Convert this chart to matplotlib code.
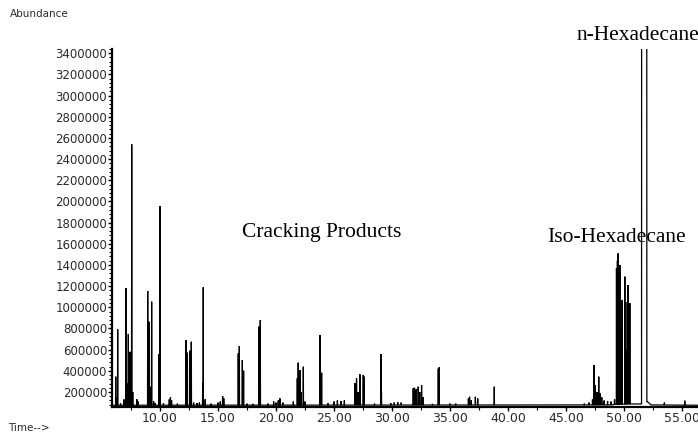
import numpy as np
import matplotlib
matplotlib.use("Agg")
import matplotlib.pyplot as plt
from matplotlib.ticker import MultipleLocator, FuncFormatter

# Retention times (min) and abundances of the resolved peaks
rt_min = [
    6.18, 6.25, 6.35, 6.60, 6.90, 7.07, 7.15, 7.27, 7.41, 7.50, 7.56, 7.65,
    8.00, 8.10, 8.94, 9.00, 9.05, 9.15, 9.28, 9.45, 9.60, 9.90, 10.00, 10.30,
    10.80, 10.90, 11.00, 11.50, 12.24, 12.30, 12.36, 12.59, 12.70, 12.90, 13.20,
    13.40, 13.68, 13.73, 13.90, 14.40, 15.00, 15.20, 15.40, 15.50, 16.75, 16.84,
    17.10, 17.21, 17.50, 18.00, 18.53, 18.65, 19.30, 19.80, 20.00, 20.20, 20.34,
    20.60, 21.50, 21.84, 21.92, 22.00, 22.07, 22.15, 22.36, 22.50, 23.79, 23.94,
    24.50, 25.00, 25.30, 25.60, 25.90, 26.81, 26.95, 27.10, 27.24, 27.53, 27.61,
    28.50, 29.05, 29.10, 29.90, 30.20, 30.50, 30.80, 31.84, 31.95, 32.10, 32.27,
    32.40, 32.56, 32.70, 33.50, 34.00, 34.08, 35.00, 35.50, 36.60, 36.70, 36.85,
    37.20, 37.40, 38.83, 46.60, 47.00, 47.30, 47.44, 47.55, 47.70, 47.84, 47.95,
    48.10, 48.30, 48.60, 48.90, 49.20, 49.37, 49.45, 49.51, 49.58, 49.66, 49.75,
    49.85, 50.09, 50.17, 50.25, 50.37, 50.52, 53.50, 55.26,
]
abundance = [
    345000, 150000, 792000, 93000, 130000, 1180000, 282000, 748000, 580000, 203000, 2540000, 200000,
    131000, 110000, 1154000, 313000, 864000, 250000, 1053000, 110000, 95000, 559000, 1957000, 95000,
    130000, 150000, 120000, 90000, 691000, 200000, 571000, 590000, 675000, 100000, 95000,
    100000, 288000, 1189000, 130000, 90000, 100000, 110000, 162000, 140000, 565000, 634000,
    502000, 401000, 90000, 88000, 817000, 880000, 90000, 110000, 100000, 120000, 140000,
    100000, 110000, 329000, 477000, 250000, 408000, 200000, 439000, 110000, 738000, 382000,
    95000, 110000, 120000, 115000, 120000, 282000, 329000, 200000, 367000, 361000, 345000,
    90000, 559000, 200000, 95000, 100000, 105000, 100000, 235000, 240000, 225000, 250000,
    200000, 263000, 150000, 88000, 420000, 433000, 90000, 90000, 140000, 155000, 120000,
    155000, 140000, 250000, 90000, 100000, 130000, 455000, 266000, 200000, 345000, 188000,
    150000, 120000, 115000, 110000, 130000, 1370000, 1440000, 1510000, 900000, 1400000, 800000,
    1070000, 1290000, 1050000, 600000, 1210000, 1040000, 100000, 118000,
]

# Baseline level of the total ion current (drifts up under the C16 region)
base_t = [5.86, 49.0, 49.3, 50.6, 51.5, 52.05, 52.35, 56.4]
base_a = [75000, 78000, 85000, 87000, 87000, 108000, 78000, 75000]

# n-Hexadecane: saturated peak, apex far off scale
nhex_start, nhex_apex_t, nhex_end = 51.53, 51.76, 51.99
nhex_apex = 1.0e8

# Axis settings
x_range = (5.86, 56.4)
y_range = (58300, 3440000)
y_ticks = list(range(200000, 3400001, 200000))
x_ticks = [10, 15, 20, 25, 30, 35, 40, 45, 50, 55]

# Build the trace polyline
half_w = 0.016
pts = []
for t, a in zip(rt_min, abundance):
    foot = np.interp(t, base_t, base_a)
    pts += [(t - half_w, foot), (t, a), (t + half_w, foot)]
pts += [(nhex_start, np.interp(nhex_start, base_t, base_a)),
        (nhex_apex_t, nhex_apex),
        (nhex_end, np.interp(nhex_end, base_t, base_a))]
peak_edges = [(t - half_w, t + half_w) for t in rt_min] + [(nhex_start, nhex_end)]
for t, a in zip(base_t, base_a):
    if not any(lo <= t <= hi for lo, hi in peak_edges):
        pts.append((t, a))
pts.sort(key=lambda p: p[0])
tr_t = [p[0] for p in pts]
tr_a = [p[1] for p in pts]

W, H = 698, 432
fig = plt.figure(figsize=(W / 100, H / 100), dpi=100)
fig.patch.set_facecolor("white")
ax = fig.add_axes([112 / W, (H - 407) / H, (W - 112) / W, (407 - 49) / H])
ax.plot(tr_t, tr_a, color="black", lw=0.9, solid_joinstyle="miter")

ax.set_xlim(*x_range)
ax.set_ylim(*y_range)
for s in ("top", "right"):
    ax.spines[s].set_visible(False)
for s in ("left", "bottom"):
    ax.spines[s].set_linewidth(1.6)
    ax.spines[s].set_color("black")

ax.set_yticks(y_ticks)
ax.yaxis.set_major_formatter(FuncFormatter(lambda v, p: f"{int(v)}"))
ax.yaxis.set_minor_locator(MultipleLocator(40000))
ax.set_xticks(x_ticks)
ax.xaxis.set_major_formatter(FuncFormatter(lambda v, p: f"{v:.2f}"))
ax.xaxis.set_minor_locator(MultipleLocator(2.5))

ax.tick_params(axis="y", which="major", direction="out", length=3, width=1,
               pad=0.5, labelsize=8.5, labelcolor="#2a2a2a")
ax.tick_params(axis="y", which="minor", direction="out", length=2, width=0.8)
ax.tick_params(axis="x", which="major", direction="out", length=3, width=1,
               pad=0.5, labelsize=9, labelcolor="#2a2a2a")
ax.tick_params(axis="x", which="minor", direction="out", length=2.5, width=0.8)

def fig_xy(px, py):
    return px / W, 1 - py / H

fig.text(*fig_xy(10, 14), "Abundance", fontsize=7.5, color="#2a2a2a",
         family="DejaVu Sans", va="center", ha="left")
fig.text(*fig_xy(8, 428), "Time-->", fontsize=7.5, color="#2a2a2a",
         family="DejaVu Sans", va="center", ha="left")

serif = dict(family="Liberation Serif", fontsize=15.5, color="black", va="center")
fig.text(*fig_xy(242, 232), "Cracking Products", ha="left", **serif)
fig.text(*fig_xy(547, 238), "Iso-Hexadecane", ha="left", **serif)
fig.text(*fig_xy(577, 36), "n-Hexadecane", ha="left", **serif)

fig.savefig("out.png", dpi=100)
